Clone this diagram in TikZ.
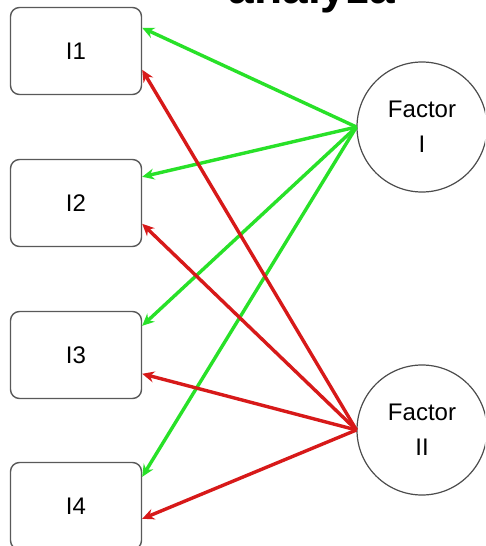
\documentclass[tikz,border=0pt]{standalone}
\usepackage{fontspec}
\setmainfont{Liberation Sans}
\usetikzlibrary{arrows.meta}
\definecolor{lgreen}{RGB}{40,225,40}
\definecolor{lred}{RGB}{215,25,25}
\begin{document}
\begin{tikzpicture}[x=1pt,y=-1pt,
  itembox/.style={draw=black!65, line width=1.4pt, rounded corners=9pt, minimum width=131pt, minimum height=87pt, inner sep=0pt, font=\fontsize{24}{26}\selectfont},
  factor/.style={draw=black!70, line width=1.2pt, circle, minimum size=130pt, inner sep=0pt, align=center, font=\fontsize{24}{35}\selectfont},
  garrow/.style={draw=lgreen, line width=3.4pt, -{Stealth[length=12pt,width=11pt]}},
  rarrow/.style={draw=lred, line width=3.4pt, -{Stealth[length=12pt,width=11pt]}}]
\useasboundingbox (0,0) rectangle (485,546);
\fill[white] (0,0) rectangle (485,546);
\clip (0,0) rectangle (485,546);
\node[anchor=base, inner sep=0pt, font=\fontsize{46}{46}\selectfont\bfseries] (title) at (312,3) {analyza};
\node[itembox] (i1) at (76,51) {I1};
\node[itembox] (i2) at (76,203) {I2};
\node[itembox] (i3) at (76,355) {I3};
\node[itembox] (i4) at (76,506) {I4};
\node[factor] (f1) at (422,127) {Factor\\I};
\node[factor] (f2) at (422,430) {Factor\\II};
\draw[garrow] (f1.west) -- ([yshift=-21pt]i1.north east);
\draw[garrow] (f1.west) -- ([yshift=-18pt]i2.north east);
\draw[garrow] (f1.west) -- ([yshift=-15pt]i3.north east);
\draw[garrow] (f1.west) -- ([yshift=-15pt]i4.north east);
\draw[rarrow] (f2.west) -- ([yshift=-63pt]i1.north east);
\draw[rarrow] (f2.west) -- ([yshift=-65pt]i2.north east);
\draw[rarrow] (f2.west) -- ([yshift=-63pt]i3.north east);
\draw[rarrow] (f2.west) -- ([yshift=-57pt]i4.north east);
\end{tikzpicture}
\end{document}
